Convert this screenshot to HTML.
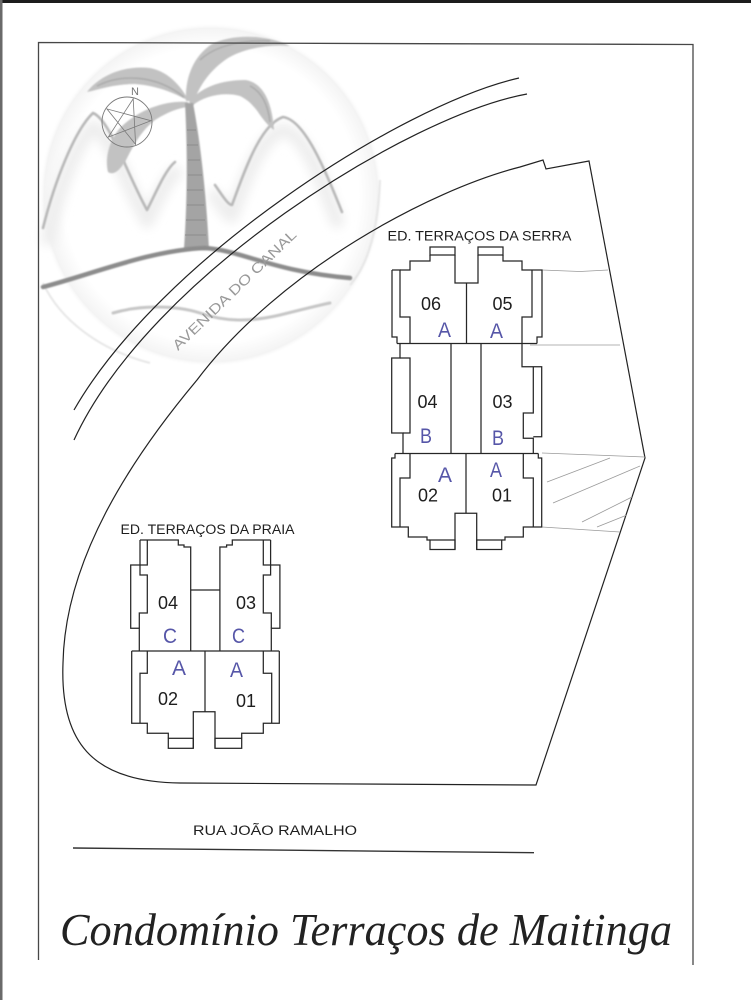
<!DOCTYPE html>
<html><head><meta charset="utf-8">
<style>
html,body{margin:0;padding:0;background:#fff;}
svg{display:block}
</style></head>
<body>
<svg width="751" height="1000" viewBox="0 0 751 1000" xmlns="http://www.w3.org/2000/svg">
<defs>
  <radialGradient id="disk" cx="211" cy="195" r="172" gradientUnits="userSpaceOnUse">
    <stop offset="0" stop-color="#ffffff"/>
    <stop offset="0.86" stop-color="#ffffff"/>
    <stop offset="0.97" stop-color="#f4f4f4"/>
    <stop offset="1" stop-color="#ffffff" stop-opacity="0"/>
  </radialGradient>
  <filter id="b1" x="-20%" y="-20%" width="140%" height="140%"><feGaussianBlur stdDeviation="0.9"/></filter>
  <filter id="b4" x="-30%" y="-30%" width="160%" height="160%"><feGaussianBlur stdDeviation="5"/></filter>
</defs>

<rect width="751" height="1000" fill="#fff"/>
<!-- scan edges -->
<rect x="0" y="0" width="751" height="3" fill="#1c1c1c"/>
<rect x="0" y="0" width="2.5" height="1000" fill="#6a6a6a"/>

<!-- ===== Watermark logo ===== -->
<g>
  <circle cx="211" cy="195" r="172" fill="url(#disk)"/>
  <path d="M380,180 C378,230 368,265 350,285" fill="none" stroke="#e6e6e6" stroke-width="2" filter="url(#b1)"/>
  <path d="M43,283 C60,320 100,350 150,363" fill="none" stroke="#e6e6e6" stroke-width="2" filter="url(#b1)"/>
  <!-- mountain shading -->
  <g fill="none" stroke-linecap="round" stroke-linejoin="round">
    <g transform="translate(0,7)">
      <path d="M48,232 C57,185 77,135 93,120 C110,127 125,175 147,214 C155,199 165,174 175,166" stroke="#eeeeee" stroke-width="14" filter="url(#b4)"/>
      <path d="M215,189 C222,199 228,209 232,209 C245,174 260,130 283,123 C305,126 322,174 337,214" stroke="#eeeeee" stroke-width="14" filter="url(#b4)"/>
    </g>
    <path d="M43,228 C55,180 75,130 93,113 C110,120 125,170 147,210 C155,195 165,170 175,162" stroke="#b8b8b8" stroke-width="2.6" filter="url(#b1)"/>
    <path d="M215,185 C222,195 228,205 232,205 C245,170 260,125 283,117 C305,120 325,170 342,212" stroke="#b8b8b8" stroke-width="2.6" filter="url(#b1)"/>
  </g>
  <!-- leaves -->
  <g fill="#c2c2c2" filter="url(#b1)">
    <path d="M87,92 C100,75 125,65 150,68 C170,72 182,88 189,101 C178,95 160,86 135,84 C115,84 100,89 87,92 Z"/>
    <path d="M186,101 C185,80 192,57 212,44 C232,34 265,34 290,46 C270,44 245,48 228,58 C210,70 200,85 194,101 Z"/>
    <path d="M189,102 C200,88 220,80 245,80 C262,82 272,100 274,130 C268,126 262,118 258,112 C252,104 248,100 240,96 C225,92 205,95 192,106 Z"/>
    <path d="M188,102 C165,100 138,110 120,128 C108,142 105,160 108,172 C114,176 120,170 126,160 C134,145 140,132 155,120 C168,112 178,108 188,107 Z"/>
  </g>
  <g fill="none" stroke="#a9a9a9" stroke-width="1.4" filter="url(#b1)">
    <path d="M97,86 C120,74 155,74 184,97"/>
    <path d="M250,86 C262,92 268,105 270,122"/>
    <path d="M200,60 C215,46 240,40 270,41"/>
  </g>
  <!-- trunk -->
  <path d="M185,103 C187,140 188,190 184,249 L209,249 C206,190 200,140 193,103 Z" fill="#a4a4a4" filter="url(#b1)"/>
  <g stroke="#8b8b8b" stroke-width="1">
    <line x1="187" y1="130" x2="196" y2="130"/>
    <line x1="187" y1="145" x2="198" y2="145"/>
    <line x1="188" y1="160" x2="200" y2="160"/>
    <line x1="188" y1="175" x2="202" y2="175"/>
    <line x1="187" y1="190" x2="203" y2="190"/>
    <line x1="187" y1="205" x2="204" y2="205"/>
    <line x1="186" y1="220" x2="205" y2="220"/>
    <line x1="185" y1="235" x2="206" y2="235"/>
  </g>
  <!-- ground and wave -->
  <path d="M43,287 C90,275 150,250 205,248 C240,250 275,272 350,278" fill="none" stroke="#8c8c8c" stroke-width="4.5" stroke-linecap="round" filter="url(#b1)"/>
  <path d="M113,313 C140,305 175,305 200,313 C225,322 250,322 280,315 C300,310 320,305 330,303" fill="none" stroke="#c6c6c6" stroke-width="3" stroke-linecap="round" filter="url(#b1)"/>
  <!-- compass -->
  <circle cx="127" cy="122" r="25" fill="none" stroke="#7a7a7a" stroke-width="0.9"/>
  <path d="M133.2,98.8 L135.6,144.4 L106.9,108.9 L151,120.7 L108.3,137.1 Z" fill="none" stroke="#7a7a7a" stroke-width="0.8"/>
  <text x="135" y="95" font-family="Liberation Sans, sans-serif" font-size="11" fill="#777" text-anchor="middle">N</text>
</g>

<!-- AVENIDA DO CANAL -->
<text x="0" y="0" transform="translate(178,351) rotate(-44)" font-family="Liberation Sans, sans-serif" font-size="14" fill="#9a9a9a" textLength="166" lengthAdjust="spacingAndGlyphs">AVENIDA DO CANAL</text>

<!-- ===== Frame ===== -->
<path d="M38.5,960 L38.5,42.5 L693,44.5 L693,965" fill="none" stroke="#474747" stroke-width="1.3"/>

<!-- ===== Roads and lot ===== -->
<g fill="none" stroke="#222" stroke-width="1.2">
  <path d="M519,78 C400,105 160,260 74,410"/>
  <path d="M527,94 C410,115 150,275 74,440"/>
  <path d="M589,161 L546,169 L543,160 L520,167 C430,190 280,270 197,380 C130,460 65,560 63,663 C60,740 90,782 180,783 L536,785 L645,458 Z"/>
  <path d="M73,848 L534,852.7" stroke-width="1.4" stroke="#333"/>
</g>

<!-- thin lines near Serra -->
<g fill="none" stroke="#9a9a9a" stroke-width="0.8">
  <path d="M542,270 L580,271.5 L608,270"/>
  <path d="M530,345 L620,345"/>
  <path d="M542,453 L645,457"/>
  <path d="M542,527 L620,532"/>
  <path d="M547,482 L610,458"/>
  <path d="M553,503 L640,466"/>
  <path d="M582,522 L632,497"/>
  <path d="M597,527 L627,515"/>
</g>

<!-- ===== ED. TERRAÇOS DA SERRA ===== -->
<g fill="none" stroke="#262626" stroke-width="1.25">
  <path d="M392,270 L392,337 L397,337 L397,343.5"/>
  <path d="M392,270 L400,270 L400,317 L410,317 L410,343.5"/>
  <path d="M400,270 L410,270 L410,261 L430,261 L430,255"/>
  <rect x="430" y="247" width="25" height="8"/>
  <path d="M455,255 L455,283 L478,283 L478,255"/>
  <rect x="478" y="247" width="25" height="8"/>
  <path d="M503,255 L503,261 L522,261 L522,270 L542,270 L542,337 L537,337 L537,343.5"/>
  <path d="M532,270 L532,317 L522,317 L522,343.5"/>
  <path d="M466.5,283 L466.5,343.5"/>
  <path d="M397,343.5 L537,343.5"/>
  <path d="M400,343.5 L400,358 L391.7,358 L391.7,433 L403,433 L403,453.5"/>
  <path d="M400,358 L410,358 L410,433 L403,433"/>
  <path d="M451,343.5 L451,453.5"/>
  <path d="M481,343.5 L481,453.5"/>
  <path d="M522,343.5 L522,366.7 L541.7,366.7 L541.7,436.7 L533.3,436.7"/>
  <path d="M533.3,366.7 L533.3,413 L523.3,413 L523.3,438.3 L533.3,438.3 L533.3,453.5"/>
  <path d="M395,453.5 L538.3,453.5"/>
  <path d="M395,453.5 L395,458 L391.7,458 L391.7,527 L408.3,527 L408.3,537 L427,537 L427,540 L430,540"/>
  <path d="M410,453.5 L410,478 L400,478 L400,527"/>
  <rect x="430" y="540" width="25" height="9.5"/>
  <path d="M455,549.5 L455,513.3 L476.7,513.3 L476.7,549.5"/>
  <path d="M466,453.5 L466,513.3"/>
  <rect x="476.7" y="540" width="25" height="9.5"/>
  <path d="M501.7,540 L505,540 L505,537 L523.3,537 L523.3,527 L541.7,527 L541.7,458 L538.3,458 L538.3,453.5"/>
  <path d="M523.3,453.5 L523.3,478 L533.3,478 L533.3,527"/>
</g>

<!-- ===== ED. TERRAÇOS DA PRAIA ===== -->
<g fill="none" stroke="#262626" stroke-width="1.25">
  <path d="M140,540 L178.3,540 L178.3,545 L184,545 L184,547 L190.7,547 L190.7,651"/>
  <path d="M140,540 L140,565 L130.7,565 L130.7,628.3 L139.3,628.3 L139.3,651"/>
  <path d="M147.3,540 L147.3,565 L140,565"/>
  <path d="M140,565 L140,575 L147.3,575 L147.3,613 L139.3,613 L139.3,628.3"/>
  <path d="M270.6,540 L232.3,540 L232.3,545 L226.6,545 L226.6,547 L219.9,547 L219.9,651"/>
  <path d="M270.6,540 L270.6,565 L279.9,565 L279.9,628.3 L271.3,628.3 L271.3,651"/>
  <path d="M263.3,540 L263.3,565 L270.6,565"/>
  <path d="M270.6,565 L270.6,575 L263.3,575 L263.3,613 L271.3,613 L271.3,628.3"/>
  <path d="M190.7,590 L219.9,590"/>
  <path d="M131.7,651 L279.3,651"/>
  <path d="M131.7,651 L131.7,723.3 L147.3,723.3 L147.3,733.3 L168.3,733.3 L168.3,738.3"/>
  <path d="M147.3,651 L147.3,673.3 L140,673.3 L140,723.3"/>
  <rect x="168.3" y="738.3" width="25" height="10"/>
  <path d="M193.3,748.3 L193.3,711.7 L215,711.7 L215,748.3"/>
  <path d="M205,651 L205,711.7"/>
  <rect x="215" y="738.3" width="26.7" height="10"/>
  <path d="M241.7,738.3 L241.7,733.3 L263.3,733.3 L263.3,723.3 L279.3,723.3 L279.3,651"/>
  <path d="M263.3,651 L263.3,673.3 L271.7,673.3 L271.7,723.3"/>
</g>

<!-- ===== Labels ===== -->
<g font-family="Liberation Sans, sans-serif" fill="#1e1e1e">
  <text x="387.5" y="240.5" font-size="13.5" textLength="184" lengthAdjust="spacingAndGlyphs">ED. TERRAÇOS DA SERRA</text>
  <text x="120.5" y="534" font-size="13.5" textLength="174" lengthAdjust="spacingAndGlyphs">ED. TERRAÇOS DA PRAIA</text>
  <g font-size="18" text-anchor="middle">
    <text x="431" y="310">06</text>
    <text x="502.5" y="310">05</text>
    <text x="427.5" y="408">04</text>
    <text x="502.5" y="408">03</text>
    <text x="428" y="501.5">02</text>
    <text x="502" y="501.5">01</text>
    <text x="168" y="609">04</text>
    <text x="246" y="609">03</text>
    <text x="168" y="705">02</text>
    <text x="246" y="707">01</text>
  </g>
  <text x="193" y="835" font-size="13.5" textLength="164" lengthAdjust="spacingAndGlyphs">RUA JOÃO RAMALHO</text>
</g>

<!-- handwritten unit types -->
<g font-family="Liberation Sans, sans-serif" fill="#5656a8" font-size="21">
  <text x="438" y="337" textLength="13" lengthAdjust="spacingAndGlyphs">A</text>
  <text x="490" y="338" textLength="13" lengthAdjust="spacingAndGlyphs">A</text>
  <text x="420" y="443" textLength="12" lengthAdjust="spacingAndGlyphs">B</text>
  <text x="492" y="445" textLength="12" lengthAdjust="spacingAndGlyphs">B</text>
  <text x="438" y="482" textLength="14" lengthAdjust="spacingAndGlyphs">A</text>
  <text x="490" y="477" textLength="12" lengthAdjust="spacingAndGlyphs">A</text>
  <text x="163" y="643" textLength="14" lengthAdjust="spacingAndGlyphs">C</text>
  <text x="232" y="643" textLength="13" lengthAdjust="spacingAndGlyphs">C</text>
  <text x="172" y="675" textLength="14" lengthAdjust="spacingAndGlyphs">A</text>
  <text x="230" y="677" textLength="13" lengthAdjust="spacingAndGlyphs">A</text>
</g>

<!-- title -->
<text x="60" y="945" font-family="Liberation Serif, serif" font-style="italic" font-size="46" fill="#222" textLength="612" lengthAdjust="spacingAndGlyphs">Condomínio Terraços de Maitinga</text>
</svg>
</body></html>
